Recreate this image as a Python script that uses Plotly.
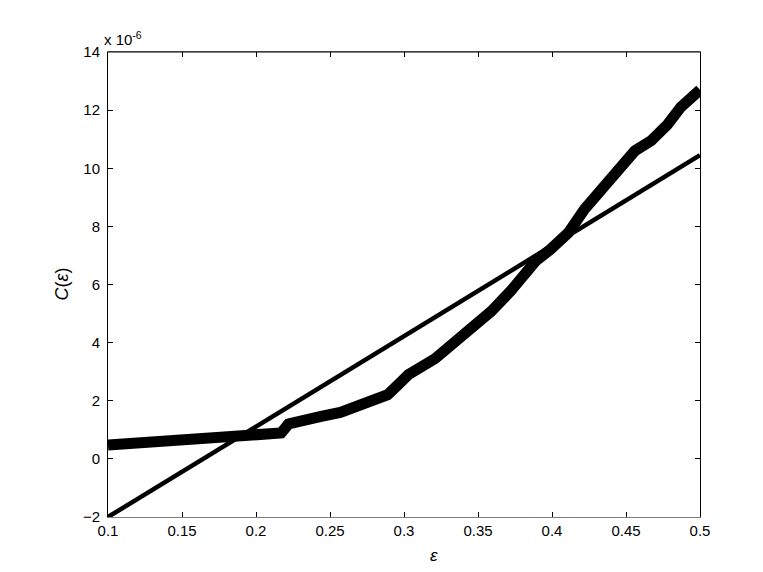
import plotly.graph_objects as go

# measured correlation curve C(eps), units of 1e-6
eps = [0.1, 0.12, 0.154, 0.188, 0.199, 0.217, 0.222, 0.235, 0.244, 0.257,
       0.267, 0.28, 0.289, 0.296, 0.303, 0.321, 0.343, 0.359, 0.372, 0.382,
       0.389, 0.399, 0.411, 0.422, 0.438, 0.449, 0.456, 0.467, 0.478, 0.487,
       0.499, 0.5]
c_eps = [0.48, 0.55, 0.66, 0.75, 0.79, 0.89, 1.2, 1.4, 1.46, 1.6,
         1.78, 2.03, 2.21, 2.55, 2.9, 3.45, 4.35, 5.08, 5.77, 6.34,
         6.81, 7.21, 7.78, 8.59, 9.51, 10.2, 10.6, 10.95, 11.5, 12.1,
         12.65, 12.7]

# fitted straight line
fit_x = [0.1, 0.5]
fit_y = [-2.0, 10.45]

x_ticks = [0.1, 0.15, 0.2, 0.25, 0.3, 0.35, 0.4, 0.45, 0.5]
x_labels = ["0.1", "0.15", "0.2", "0.25", "0.3", "0.35", "0.4", "0.45", "0.5"]
y_ticks = [-2, 0, 2, 4, 6, 8, 10, 12, 14]

font = "Liberation Sans, Arial, sans-serif"

fig = go.Figure()
fig.add_trace(go.Scatter(x=eps, y=c_eps, mode="lines",
                         line=dict(color="black", width=11)))
fig.add_trace(go.Scatter(x=fit_x, y=fit_y, mode="lines",
                         line=dict(color="black", width=4.5)))

fig.update_layout(
    width=763, height=572,
    margin=dict(l=100, r=71, t=44, b=63),
    paper_bgcolor="white", plot_bgcolor="white",
    showlegend=False,
    font=dict(family=font, size=15, color="black"),
    xaxis=dict(range=[0.1, 0.5], tickvals=x_ticks, ticktext=x_labels,
               ticks="inside", ticklen=5, tickcolor="black",
               showline=True, linecolor="#808080", linewidth=1,
               mirror="ticks", showgrid=False, zeroline=False),
    yaxis=dict(range=[-2, 14], tickvals=y_ticks,
               ticks="inside", ticklen=5, tickcolor="black",
               showline=True, linecolor="black", linewidth=1,
               mirror="ticks", showgrid=False, zeroline=False,
               ticklabelstandoff=4),
)

# black top border
fig.add_shape(type="line", xref="paper", yref="paper", x0=0, x1=1, y0=1, y1=1,
              line=dict(color="black", width=1))

fig.add_annotation(text="x 10<sup>-6</sup>", xref="paper", yref="paper",
                   x=0, y=1, xanchor="left", yanchor="bottom", showarrow=False,
                   font=dict(size=15), xshift=-6, yshift=2)
fig.add_annotation(text="<i>C</i>(<i>ε</i>)", xref="paper", yref="paper",
                   x=0, y=0.5, xanchor="center", yanchor="middle", showarrow=False,
                   textangle=-90, xshift=-47, font=dict(size=18))
fig.add_annotation(text="<i>ε</i>", xref="paper", yref="paper",
                   x=0.55, y=0, xanchor="center", yanchor="top", showarrow=False,
                   yshift=-27, font=dict(size=17))

fig.write_html("out.html")
